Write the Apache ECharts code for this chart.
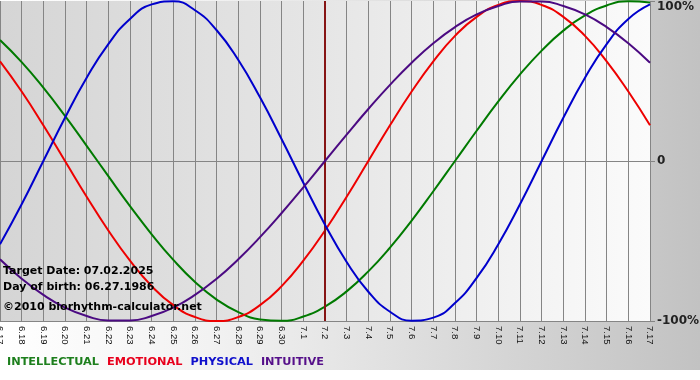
<!DOCTYPE html>
<html>
<head>
<meta charset="utf-8">
<script src="https://cdn.jsdelivr.net/npm/echarts@6/dist/echarts.min.js"></script>
<style>
  html, body { margin: 0; padding: 0; background: #fff; }
  #chart { width: 700px; height: 380px; }
</style>
</head>
<body>
<div id="chart"></div>
<script>
const days = ["6.17", "6.18", "6.19", "6.20", "6.21", "6.22", "6.23", "6.24", "6.25", "6.26",
  "6.27", "6.28", "6.29", "6.30", "7.1", "7.2", "7.3", "7.4", "7.5", "7.6", "7.7", "7.8",
  "7.9", "7.10", "7.11", "7.12", "7.13", "7.14", "7.15", "7.16", "7.17"];
const targetDay = "7.2";

const intellectual = [0.756, 0.618, 0.458, 0.282, 0.095, -0.095, -0.282, -0.458, -0.618,
  -0.756, -0.866, -0.945, -0.990, -0.999, -0.972, -0.910, -0.815, -0.690, -0.541, -0.372,
  -0.189, 0, 0.189, 0.372, 0.541, 0.690, 0.815, 0.910, 0.972, 0.999, 0.990];
const emotional = [0.623, 0.434, 0.223, 0, -0.223, -0.434, -0.623, -0.782, -0.901, -0.975,
  -1.000, -0.975, -0.901, -0.782, -0.623, -0.434, -0.223, 0, 0.223, 0.434, 0.623, 0.782,
  0.901, 0.975, 1.000, 0.975, 0.901, 0.782, 0.623, 0.434, 0.223];
const physical = [-0.520, -0.270, 0, 0.270, 0.520, 0.731, 0.888, 0.979, 0.998, 0.942, 0.817,
  0.631, 0.398, 0.136, -0.136, -0.398, -0.631, -0.817, -0.942, -0.998, -0.979, -0.888,
  -0.731, -0.520, -0.270, 0, 0.270, 0.520, 0.731, 0.888, 0.979];
const intuitive = [-0.614, -0.736, -0.837, -0.916, -0.969, -0.997, -0.997, -0.969, -0.916,
  -0.837, -0.736, -0.614, -0.476, -0.325, -0.165, 0, 0.165, 0.325, 0.476, 0.614, 0.736,
  0.837, 0.916, 0.969, 0.997, 0.997, 0.969, 0.916, 0.837, 0.736, 0.614];

const yTicks = { "1": "100%", "0": "0", "-1": "-100%" };

const names = ["INTELLECTUAL", "EMOTIONAL", "PHYSICAL", "INTUITIVE"];
const lineColors = ["#007a00", "#ee0000", "#0000cc", "#4b0a82"];
const legendColors = ["#1d7f1d", "#e8001c", "#1010cc", "#56108a"];
const values = [intellectual, emotional, physical, intuitive];

const font = '"DejaVu Sans", Verdana, sans-serif';
const chart = echarts.init(document.getElementById("chart"), null, { renderer: "canvas" });

const series = names.map((name, i) => ({
  name,
  type: "line",
  data: values[i],
  smooth: true,
  symbol: "none",
  lineStyle: { color: lineColors[i], width: 2 },
  itemStyle: { color: lineColors[i] },
  z: 3 + i,
}));
series[0].markLine = {
  silent: true,
  symbol: "none",
  label: { show: false },
  lineStyle: { color: "#861414", width: 2, type: "solid" },
  data: [{ xAxis: targetDay }],
};

chart.setOption({
  animation: false,
  backgroundColor: new echarts.graphic.LinearGradient(0, 0, 1, 0, [
    { offset: 0, color: "#ffffff" },
    { offset: 0.3, color: "#f2f2f2" },
    { offset: 1, color: "#c2c2c2" },
  ]),
  grid: {
    left: 0, top: 1, width: 650, height: 320,
    containLabel: false, outerBoundsMode: "none",
    show: true, borderWidth: 0,
    backgroundColor: new echarts.graphic.LinearGradient(0, 0, 1, 0, [
      { offset: 0, color: "#d5d5d5" },
      { offset: 0.5, color: "#e6e6e6" },
      { offset: 1, color: "#fbfbfb" },
    ]),
  },
  legend: {
    left: 2, top: 355, padding: 0,
    icon: "none", itemWidth: 0, itemHeight: 14, itemGap: 3,
    selectedMode: false,
    textStyle: { fontFamily: font, fontSize: 11.3, fontWeight: "bold" },
    data: names.map((name, i) => ({ name, textStyle: { color: legendColors[i] } })),
  },
  xAxis: {
    type: "category",
    data: days,
    boundaryGap: false,
    axisLine: { show: true, lineStyle: { color: "#858585", width: 1 } },
    axisTick: { show: true, length: 4, interval: 0, lineStyle: { color: "#858585" } },
    axisLabel: {
      interval: 0, rotate: -90, margin: 5,
      fontFamily: "Liberation Sans, Arial, sans-serif", fontSize: 9.5, color: "#111",
    },
    splitLine: { show: true, interval: 0, lineStyle: { color: "#858585", width: 1 } },
  },
  yAxis: {
    type: "value",
    position: "right",
    min: -1, max: 1, interval: 1,
    axisLine: { show: false },
    axisTick: { show: true, length: 5, lineStyle: { color: "#858585" } },
    axisLabel: {
      margin: 7, fontFamily: font, fontSize: 12, fontWeight: "bold", color: "#222",
      formatter: (v) => (v === 1 ? "{t|" + yTicks["1"] + "}" : yTicks[String(v)]),
      rich: {
        t: { padding: [12, 0, 0, 0], fontFamily: font, fontSize: 12, fontWeight: "bold", color: "#222" },
      },
    },
    splitLine: { show: true, lineStyle: { color: ["#858585", "#858585", "rgba(0,0,0,0)"], width: 1 } },
  },
  graphic: [
    { type: "rect", left: 0, top: 370, z: -1, shape: { width: 700, height: 10 }, style: { fill: "#ffffff" } },
    { type: "text", x: 3, y: 271, z: 100,
      style: { text: "Target Date: 07.02.2025", font: "bold 11px " + font, fill: "#000", verticalAlign: "middle" } },
    { type: "text", x: 3, y: 287, z: 100,
      style: { text: "Day of birth: 06.27.1986", font: "bold 11px " + font, fill: "#000", verticalAlign: "middle" } },
    { type: "text", x: 3, y: 307, z: 100,
      style: { text: "\u00a92010 biorhythm-calculator.net", font: "bold 11px " + font, fill: "#000", verticalAlign: "middle" } },
  ],
  series,
});
</script>
</body>
</html>
